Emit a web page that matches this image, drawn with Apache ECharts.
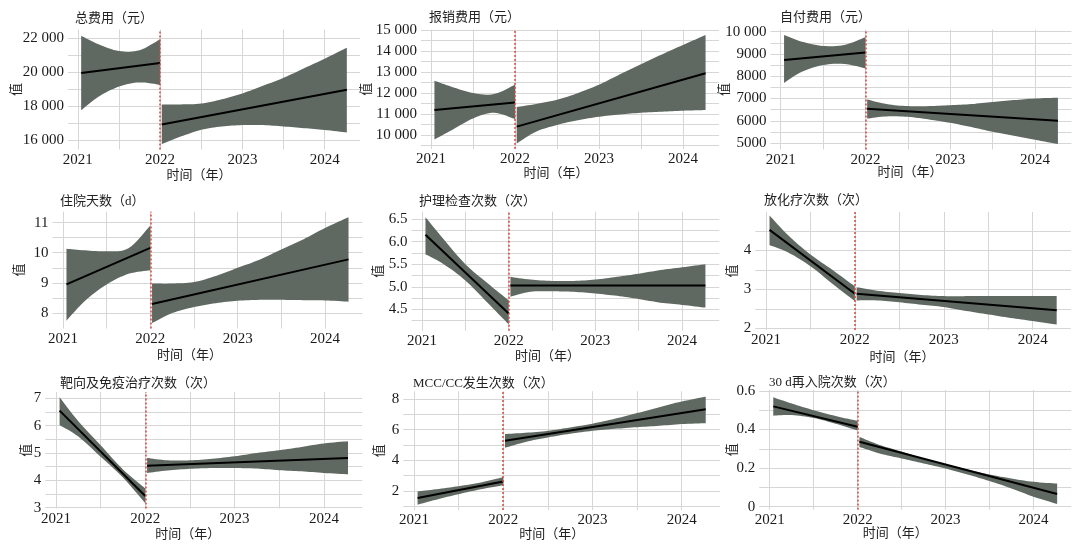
<!DOCTYPE html>
<html>
<head>
<meta charset="utf-8">
<script src="https://cdn.jsdelivr.net/npm/echarts@6/dist/echarts.min.js"></script>
<style>html,body{margin:0;background:#fff}#main{width:1080px;height:555px}</style>
</head>
<body>
<div id="main"></div>
<script>
// sample positions (years) where the band edges were read
var xLeft = [2021.04, 2021.25, 2021.5, 2021.75, 2022.0];
var xRight = [2022.02, 2022.25, 2022.5, 2022.75, 2023.0, 2023.25, 2023.5, 2023.75, 2024.0, 2024.27];
var xLineL = [2021.04, 2022.0];
var xLineR = [2022.02, 2024.27];
var xTicks = [2021, 2022, 2023, 2024];
var xGrid = [2021, 2021.5, 2022, 2022.5, 2023, 2023.5, 2024];
var breakYear = 2022;

var titles = ['总费用（元）', '报销费用（元）', '自付费用（元）', '住院天数（d）', '护理检查次数（次）',
  '放化疗次数（次）', '靶向及免疫治疗次数（次）', 'MCC/CC发生次数（次）', '30 d再入院次数（次）'];

// 总费用
var p1LineL = [19950, 20550], p1LineR = [16910, 18960];
var p1HiL = [22150, 21650, 21250, 21300, 21950];
var p1LoL = [17750, 18550, 19150, 19400, 19250];
var p1HiR = [18090, 18100, 18150, 18400, 18750, 19200, 19670, 20230, 20800, 21450];
var p1LoR = [15760, 16200, 16600, 16800, 16880, 16880, 16800, 16700, 16590, 16450];
var p1Ticks = [16000, 18000, 20000, 22000];
var p1Grid = [16000, 17000, 18000, 19000, 20000, 21000, 22000];

// 报销费用
var p2LineL = [11190, 11550], p2LineR = [10400, 12940];
var p2HiL = [12590, 12290, 12000, 11950, 12400];
var p2LoL = [9790, 10240, 10790, 11060, 10760];
var p2HiR = [11330, 11480, 11680, 12000, 12400, 12890, 13370, 13840, 14290, 14760];
var p2LoR = [9600, 10160, 10480, 10710, 10870, 10980, 11060, 11110, 11160, 11190];
var p2Ticks = [10000, 11000, 12000, 13000, 14000, 15000];
var p2Grid = [9500, 10000, 10500, 11000, 11500, 12000, 12500, 13000, 13500, 14000, 14500, 15000];

// 自付费用
var p3LineL = [8730, 9060], p3LineR = [6540, 6000];
var p3HiL = [9850, 9550, 9360, 9400, 9750];
var p3LoL = [7700, 8200, 8500, 8550, 8350];
var p3HiR = [6960, 6750, 6660, 6660, 6700, 6750, 6850, 6930, 7000, 7040];
var p3LoR = [6100, 6200, 6180, 6060, 5910, 5720, 5510, 5330, 5150, 4960];
var p3Ticks = [5000, 6000, 7000, 8000, 9000, 10000];
var p3Grid = [5000, 5500, 6000, 6500, 7000, 7500, 8000, 8500, 9000, 9500, 10000];

// 住院天数
var p4LineL = [8.95, 10.16], p4LineR = [8.3, 9.78];
var p4HiL = [10.13, 10.08, 10.05, 10.15, 10.9];
var p4LoL = [7.75, 8.4, 8.95, 9.3, 9.42];
var p4HiR = [8.98, 8.98, 9.03, 9.23, 9.5, 9.77, 10.11, 10.44, 10.82, 11.18];
var p4LoR = [7.67, 8.0, 8.2, 8.33, 8.41, 8.44, 8.44, 8.43, 8.42, 8.38];
var p4Ticks = [8, 9, 10, 11];
var p4Grid = [8, 8.5, 9, 9.5, 10, 10.5, 11];

// 护理检查次数
var p5LineL = [6.15, 4.41], p5LineR = [5.03, 5.03];
var p5HiL = [6.54, 6.05, 5.5, 5.09, 4.7];
var p5LoL = [5.72, 5.5, 5.14, 4.66, 4.17];
var p5HiR = [5.22, 5.16, 5.13, 5.13, 5.16, 5.22, 5.29, 5.37, 5.43, 5.5];
var p5LoR = [4.78, 4.89, 4.9, 4.89, 4.85, 4.8, 4.73, 4.65, 4.6, 4.54];
var p5Ticks = [4.5, 5, 5.5, 6, 6.5];
var p5Grid = [4.25, 4.5, 4.75, 5, 5.25, 5.5, 5.75, 6, 6.25, 6.5];

// 放化疗次数
var p6LineL = [4.53, 2.89], p6LineR = [2.89, 2.47];
var p6HiL = [4.9, 4.39, 3.9, 3.5, 3.08];
var p6LoL = [4.14, 3.95, 3.6, 3.14, 2.7];
var p6HiR = [3.06, 2.97, 2.91, 2.86, 2.83, 2.83, 2.83, 2.83, 2.83, 2.83];
var p6LoR = [2.72, 2.72, 2.67, 2.61, 2.55, 2.45, 2.36, 2.27, 2.19, 2.1];
var p6Ticks = [2, 3, 4];
var p6Grid = [2, 2.5, 3, 3.5, 4, 4.5];

// 靶向及免疫治疗次数
var p7LineL = [6.55, 3.43], p7LineR = [4.53, 4.82];
var p7HiL = [7.04, 6.16, 5.28, 4.4, 3.7];
var p7LoL = [6.02, 5.6, 4.86, 4.1, 3.16];
var p7HiR = [4.82, 4.73, 4.73, 4.79, 4.88, 5.0, 5.1, 5.22, 5.35, 5.43];
var p7LoR = [4.27, 4.36, 4.42, 4.45, 4.45, 4.43, 4.37, 4.33, 4.27, 4.22];
var p7Ticks = [3, 4, 5, 6, 7];
var p7Grid = [3, 3.5, 4, 4.5, 5, 5.5, 6, 6.5, 7];

// MCC/CC发生次数
var p8LineL = [1.52, 2.61], p8LineR = [5.28, 7.35];
var p8HiL = [1.96, 2.1, 2.3, 2.55, 2.89];
var p8LoL = [1.09, 1.42, 1.78, 2.1, 2.36];
var p8HiR = [5.72, 5.8, 5.93, 6.15, 6.4, 6.72, 7.09, 7.48, 7.85, 8.17];
var p8LoR = [4.82, 5.2, 5.5, 5.74, 5.93, 6.06, 6.17, 6.26, 6.37, 6.43];
var p8Ticks = [2, 4, 6, 8];
var p8Grid = [1, 2, 3, 4, 5, 6, 7, 8];

// 30 d再入院次数
var p9LineL = [0.52, 0.414], p9LineR = [0.337, 0.066];
var p9HiL = [0.567, 0.535, 0.5, 0.47, 0.445];
var p9LoL = [0.472, 0.475, 0.46, 0.43, 0.395];
var p9HiR = [0.362, 0.32, 0.286, 0.25, 0.22, 0.193, 0.167, 0.146, 0.129, 0.12];
var p9LoR = [0.31, 0.276, 0.25, 0.224, 0.198, 0.167, 0.133, 0.095, 0.052, 0.014];
var p9Ticks = [0, 0.2, 0.4, 0.6];
var p9Grid = [0, 0.1, 0.2, 0.3, 0.4, 0.5, 0.6];

var panels = [
  [p1LineL, p1LineR, p1HiL, p1LoL, p1HiR, p1LoR, p1Ticks, p1Grid],
  [p2LineL, p2LineR, p2HiL, p2LoL, p2HiR, p2LoR, p2Ticks, p2Grid],
  [p3LineL, p3LineR, p3HiL, p3LoL, p3HiR, p3LoR, p3Ticks, p3Grid],
  [p4LineL, p4LineR, p4HiL, p4LoL, p4HiR, p4LoR, p4Ticks, p4Grid],
  [p5LineL, p5LineR, p5HiL, p5LoL, p5HiR, p5LoR, p5Ticks, p5Grid],
  [p6LineL, p6LineR, p6HiL, p6LoL, p6HiR, p6LoR, p6Ticks, p6Grid],
  [p7LineL, p7LineR, p7HiL, p7LoL, p7HiR, p7LoR, p7Ticks, p7Grid],
  [p8LineL, p8LineR, p8HiL, p8LoL, p8HiR, p8LoR, p8Ticks, p8Grid],
  [p9LineL, p9LineR, p9HiL, p9LoL, p9HiR, p9LoR, p9Ticks, p9Grid]
];

// layout: left, top, width, height, yMin, yMax, yNameGap, xNameGap, xNameShift, titleX, titleY
var layout = [
  [68, 29.5, 292, 120, 15440, 22520, 45, 20, 15, 75, 9],
  [421, 29.6, 298, 119.3, 9340, 15020, 48, 18, 14, 429, 8],
  [770.5, 29.5, 301, 120, 4715, 10095, 39, 17, 11, 780, 8],
  [52.5, 211.7, 310, 116.8, 7.49, 11.36, 26, 21, 18, 60, 192],
  [411.6, 211.7, 307.7, 119, 4.03, 6.66, 27, 19, 18, 419, 192],
  [755.3, 212, 315.6, 118, 1.96, 4.99, 16, 21, 11, 764, 191],
  [45.3, 392, 317, 116.5, 2.97, 7.23, 12, 20, 16, 60, 374],
  [403.3, 391.3, 316.7, 118.7, 0.74, 8.52, 17, 18, 10, 413, 374],
  [759.2, 390, 312, 119.6, -0.015, 0.605, 20, 17, 20, 769, 373]
];

var bandColor = '#5f6962';
var gridColor = '#d6d6d6';
var numFont = "'Liberation Serif', serif";
var cjkFont = "'Liberation Serif', 'Noto Sans CJK SC'";

function fmt(i, v) {
  if (i === 4) return v.toFixed(1);
  if (v >= 10000) return String(Math.floor(v / 1000)) + ' ' + String(v % 1000).padStart(3, '0');
  return String(v);
}

// Catmull-Rom through pixel points, so the ribbon edges are drawn as smooth curves
function spline(pts) {
  var out = [pts[0]];
  for (var k = 0; k < pts.length - 1; k++) {
    var p0 = pts[Math.max(k - 1, 0)], p1 = pts[k], p2 = pts[k + 1], p3 = pts[Math.min(k + 2, pts.length - 1)];
    for (var s = 1; s <= 8; s++) {
      var t = s / 8, t2 = t * t, t3 = t2 * t;
      out.push([0, 1].map(function (d) {
        return 0.5 * (2 * p1[d] + (-p0[d] + p2[d]) * t + (2 * p0[d] - 5 * p1[d] + 4 * p2[d] - p3[d]) * t2 +
          (-p0[d] + 3 * p1[d] - 3 * p2[d] + p3[d]) * t3);
      }));
    }
  }
  return out;
}

var grids = [], xAxes = [], yAxes = [], series = [], titleList = [];

panels.forEach(function (p, i) {
  var L = layout[i];
  grids.push({ left: L[0], top: L[1], width: L[2], height: L[3] });
  titleList.push({
    text: titles[i], left: L[9] - 5, top: L[10] - 2, padding: 5,
    textStyle: { fontFamily: cjkFont, fontSize: 13, fontWeight: 'normal', color: '#222' }
  });
  xAxes.push({
    type: 'value', gridIndex: i, min: 2020.88, max: 2024.43,
    name: '时间（年）', nameLocation: 'middle', nameGap: L[7], nameMoveOverlap: false,
    nameTextStyle: { fontFamily: cjkFont, fontSize: 13, color: '#222', padding: [0, 2 * L[8], 0, 0] },
    axisLine: { show: false },
    axisTick: { show: false, customValues: xGrid },
    axisLabel: { customValues: xTicks, margin: 3, fontFamily: numFont, fontSize: 15, color: '#1a1a1a',
      formatter: function (v) { return String(v); } },
    splitLine: { show: true, lineStyle: { color: gridColor, width: 1 } }
  });
  yAxes.push({
    type: 'value', gridIndex: i, min: L[4], max: L[5],
    name: '值', nameLocation: 'middle', nameGap: L[6], nameMoveOverlap: false,
    nameTextStyle: { fontFamily: cjkFont, fontSize: 13, color: '#222' },
    axisLine: { show: false },
    axisTick: { show: false, customValues: p[7] },
    axisLabel: { customValues: p[6], margin: 4, fontFamily: numFont, fontSize: 15, color: '#1a1a1a',
      formatter: function (v) { return fmt(i, v); } },
    splitLine: { show: true, lineStyle: { color: gridColor, width: 1 } }
  });

  function band(xs, hi, lo) {
    series.push({
      type: 'custom', xAxisIndex: i, yAxisIndex: i, silent: true, z: 1,
      data: xs.map(function (x, k) { return [x, lo[k], hi[k]]; }),
      encode: { x: 0, y: [1, 2] },
      renderItem: function (params, api) {
        if (params.dataIndex !== 0) return null;
        var up = xs.map(function (x, k) { return api.coord([x, hi[k]]); });
        var dn = xs.map(function (x, k) { return api.coord([x, lo[k]]); });
        var pts = spline(up).concat(spline(dn).reverse());
        return { type: 'polygon', shape: { points: pts }, style: { fill: bandColor } };
      }
    });
  }
  band(xLeft, p[2], p[3]);
  band(xRight, p[4], p[5]);

  series.push({
    type: 'line', xAxisIndex: i, yAxisIndex: i, symbol: 'none', silent: true, z: 3,
    data: xLineL.map(function (x, k) { return [x, p[0][k]]; }),
    lineStyle: { color: '#000', width: 2 },
    markLine: {
      silent: true, symbol: 'none', label: { show: false },
      lineStyle: { color: '#d8473b', type: [2, 2], width: 1.5 },
      data: [{ xAxis: breakYear }]
    }
  });
  series.push({
    type: 'line', xAxisIndex: i, yAxisIndex: i, symbol: 'none', silent: true, z: 3,
    data: xLineR.map(function (x, k) { return [x, p[1][k]]; }),
    lineStyle: { color: '#000', width: 2 }
  });
});

var chart = echarts.init(document.getElementById('main'));
chart.setOption({
  animation: false,
  backgroundColor: '#fff',
  title: titleList,
  grid: grids,
  xAxis: xAxes,
  yAxis: yAxes,
  series: series
});
</script>
</body>
</html>
